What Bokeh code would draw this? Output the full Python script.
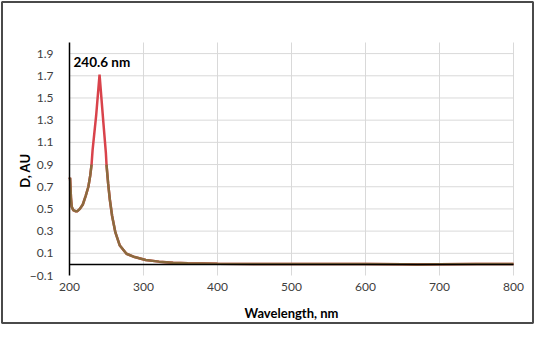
import math
from bokeh.plotting import figure
from bokeh.models import (ColumnDataSource, FixedTicker, Label, Range1d, LinearAxis)
from bokeh.embed import file_html
from bokeh.resources import INLINE

# Spectrum
wavelength = [200, 200.8, 202, 203, 205, 208, 210.7, 214, 218, 222, 225.5, 228, 229.8,
              231.2, 236, 240.6, 245.5, 249.2, 250, 252.2, 254.5, 257.6, 262, 268, 277,
              288, 303, 321, 340, 360, 400, 450, 500, 550, 600, 650, 670, 700, 750, 800]
absorbance = [0.77, 0.78, 0.60, 0.52, 0.49, 0.48, 0.48, 0.50, 0.54, 0.62, 0.70, 0.80, 0.90,
              1.03, 1.34, 1.71, 1.30, 1.00, 0.90, 0.73, 0.585, 0.436, 0.288, 0.17, 0.096,
              0.066, 0.040, 0.025, 0.015, 0.010, 0.005, 0.003, 0.003, 0.003, 0.003, 0.002,
              0.000, 0.002, 0.003, 0.003]
split_level = 0.9
x_ticks = [200, 300, 400, 500, 600, 700, 800]
y_ticks = [-0.1, 0.1, 0.3, 0.5, 0.7, 0.9, 1.1, 1.3, 1.5, 1.7, 1.9]
x_min, x_max = 200, 800
y_min, y_max = -0.1, 2.0
peak_label = "240.6 nm"
x_title = "Wavelength, nm"
y_title = "D, AU"

brown_vals = [v if v <= split_level + 1e-9 else float("nan") for v in absorbance]

FONT = "Lato"
W, H = 534, 324
# plot area inside the canvas (pixels)
PL, PR, PT, PB = 69, 513, 42, 275
sx = (PR - PL) / (x_max - x_min)
sy = (PB - PT) / (y_max - y_min)
xr = Range1d(x_min - PL / sx, x_max + (W - PR) / sx)
yr = Range1d(y_min - (H - PB) / sy, y_max + PT / sy)

def px_to_x(px):
    return xr.start + px / sx

def py_to_y(py):
    return yr.end - py / sy

p = figure(width=W, height=H, output_backend="svg", toolbar_location=None,
           x_range=xr, y_range=yr, x_axis_type=None, y_axis_type=None,
           min_border=0)
p.xgrid.visible = False
p.ygrid.visible = False
p.outline_line_color = None
p.background_fill_color = "white"
p.border_fill_color = "white"

# chart border
p.quad(left=[px_to_x(1.5)], right=[px_to_x(W - 1.5)], top=[py_to_y(1.5)],
       bottom=[py_to_y(H - 1.5)], fill_color=None, line_color="#4a4a4a", line_width=2)

# gridlines
p.segment(x0=x_ticks[1:], y0=[y_min] * (len(x_ticks) - 1), x1=x_ticks[1:],
          y1=[y_max] * (len(x_ticks) - 1), line_color="#d9d9d9", line_width=1)
p.segment(x0=[x_min] * (len(y_ticks) - 1), y0=y_ticks[1:], x1=[x_max] * (len(y_ticks) - 1),
          y1=y_ticks[1:], line_color="#d9d9d9", line_width=1)

red = ColumnDataSource(dict(x=wavelength, y=absorbance))
brown = ColumnDataSource(dict(x=wavelength, y=brown_vals))
p.line("x", "y", source=red, line_color="#d9434b", line_width=2.5)
p.line("x", "y", source=brown, line_color="#8b6b3e", line_width=2.5)

# horizontal axis line at zero
p.segment(x0=[x_min], y0=[0], x1=[x_max], y1=[0], line_color="black", line_width=1.5)

# axes placed at fixed locations
yaxis = LinearAxis(fixed_location=x_min, bounds=(y_min, y_max),
                   ticker=FixedTicker(ticks=y_ticks))
yaxis.axis_line_color = "black"
yaxis.axis_line_width = 1.5
yaxis.major_tick_line_color = None
yaxis.minor_tick_line_color = None
yaxis.major_label_standoff = 10
p.add_layout(yaxis, "left")

xaxis = LinearAxis(fixed_location=y_min, bounds=(x_min, x_max),
                   ticker=FixedTicker(ticks=x_ticks))
xaxis.axis_line_color = None
xaxis.major_tick_line_color = None
xaxis.minor_tick_line_color = None
xaxis.major_label_standoff = 1
p.add_layout(xaxis, "below")

for ax in (xaxis, yaxis):
    ax.major_label_text_font = FONT
    ax.major_label_text_font_size = "12px"
    ax.major_label_text_color = "#404040"

# titles
p.add_layout(Label(x=px_to_x((PL + PR) / 2), y=py_to_y(312), text=x_title,
                   text_font=FONT, text_font_size="13px", text_font_style="bold",
                   text_color="black", text_baseline="middle", text_align="center"))
p.add_layout(Label(x=px_to_x(PL - 45), y=py_to_y(PT + 0.55 * (PB - PT)), text=y_title,
                   angle=math.pi / 2,
                   text_font=FONT, text_font_size="13px", text_font_style="bold",
                   text_color="black", text_baseline="middle", text_align="center"))
p.add_layout(Label(x=px_to_x(PL + 4), y=1.82, text=peak_label,
                   text_font=FONT, text_font_size="13.5px", text_font_style="bold",
                   text_color="black", text_baseline="middle", text_align="left"))

open("out.html", "w").write(file_html(p, INLINE))
